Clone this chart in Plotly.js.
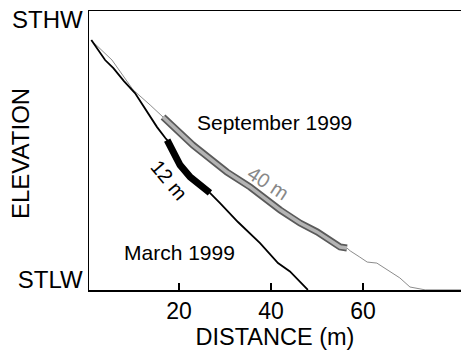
<!DOCTYPE html>
<html>
<head>
<meta charset="utf-8">
<script src="https://cdn.plot.ly/plotly-3.0.1.min.js"></script>
<style>html,body{margin:0;padding:0;background:#fff;}#chart{width:461px;height:350px;}</style>
</head>
<body>
<div id="chart"></div>
<script>
// Profile of March 1999 (distance in m, relative elevation: STLW = 0, STHW = 1)
const marchDistance = [0.9, 3.9, 5.7, 8.0, 10.4, 12.6, 15.2, 17.0, 17.4, 18.7, 20.2, 22.4, 24.6, 26.7, 28.9, 32.8, 37.6, 41.5, 44.1, 48.0];
const marchElevation = [0.923, 0.846, 0.815, 0.765, 0.719, 0.660, 0.588, 0.546, 0.538, 0.492, 0.442, 0.396, 0.365, 0.335, 0.296, 0.223, 0.142, 0.065, 0.033, -0.038];
const marchHighlightStart = 17.4; // "12 m" segment
const marchHighlightEnd = 26.7;

// Profile of September 1999
const septDistance = [0.9, 1.3, 5.4, 10.0, 13.7, 16.5, 23.0, 30.4, 35.4, 42.0, 46.3, 50.0, 55.0, 56.5, 57.2, 59.3, 60.9, 63.0, 65.9, 68.0, 70.2, 73.5, 81.3];
const septElevation = [0.923, 0.915, 0.846, 0.731, 0.673, 0.627, 0.519, 0.415, 0.358, 0.269, 0.219, 0.185, 0.127, 0.123, 0.112, 0.088, 0.069, 0.065, 0.031, 0.008, -0.027, -0.038, -0.038];
const septHighlightStart = 16.5; // "40 m" segment
const septHighlightEnd = 56.5;

const xTickValues = [20, 40, 60];
const yTickValues = [0, 1];
const yTickLabels = ['STLW', 'STHW'];

function segment(xs, ys, a, b) {
  const sx = [], sy = [];
  xs.forEach((x, i) => { if (x >= a && x <= b) { sx.push(x); sy.push(ys[i]); } });
  return {x: sx, y: sy};
}
const marchSeg = segment(marchDistance, marchElevation, marchHighlightStart, marchHighlightEnd);
const septSeg = segment(septDistance, septElevation, septHighlightStart, septHighlightEnd);

const FONT = 'Liberation Sans, Arial, Helvetica, sans-serif';

const traces = [
  {x: septDistance, y: septElevation, mode: 'lines', line: {color: '#8c8c8c', width: 1}, hoverinfo: 'skip'},
  {x: septSeg.x, y: septSeg.y, mode: 'lines', line: {color: '#5a5a5a', width: 7}, hoverinfo: 'skip'},
  {x: septSeg.x, y: septSeg.y, mode: 'lines', line: {color: '#b4b4b4', width: 3.5}, hoverinfo: 'skip'},
  {x: marchDistance, y: marchElevation, mode: 'lines', line: {color: '#000', width: 1.8}, hoverinfo: 'skip'},
  {x: marchSeg.x, y: marchSeg.y, mode: 'lines', line: {color: '#000', width: 7}, hoverinfo: 'skip'}
];

const layout = {
  width: 461, height: 350,
  margin: {l: 89, r: 0, t: 11, b: 60},
  paper_bgcolor: '#fff', plot_bgcolor: '#fff',
  showlegend: false,
  font: {family: FONT, color: '#000'},
  xaxis: {
    range: [0.4, 81.3],
    showline: true, linecolor: '#000', linewidth: 1.5, mirror: true,
    ticks: 'inside', ticklen: 7, tickwidth: 1.5, tickcolor: '#000',
    tickvals: xTickValues, tickfont: {size: 23, family: FONT},
    showgrid: false, zeroline: false,
    title: {text: 'DISTANCE (m)', font: {size: 23.5, family: FONT}, standoff: 5}
  },
  yaxis: {
    range: [-0.0385, 1.0346],
    showline: true, linecolor: '#000', linewidth: 1.5,
    ticks: '', tickvals: yTickValues, ticktext: yTickLabels,
    tickfont: {size: 24, family: FONT},
    showgrid: false, zeroline: false
  },
  annotations: [
    {xref: 'paper', yref: 'paper', x: -0.1855, y: 0.491, text: 'ELEVATION', showarrow: false, textangle: -90,
     xanchor: 'center', yanchor: 'middle', font: {size: 24, family: FONT}},
    {x: 40.65, y: 0.604, text: 'September 1999', showarrow: false, font: {size: 21, family: FONT}},
    {x: 20.0, y: 0.104, text: 'March 1999', showarrow: false, font: {size: 21, family: FONT}},
    {x: 17.8, y: 0.385, text: '12 m', showarrow: false, textangle: 50, font: {size: 20, family: FONT}},
    {x: 39.3, y: 0.373, text: '40 m', showarrow: false, textangle: 33, font: {size: 20, family: FONT, color: '#888'}}
  ]
};

Plotly.newPlot('chart', traces, layout, {staticPlot: true, displayModeBar: false});
</script>
</body>
</html>
